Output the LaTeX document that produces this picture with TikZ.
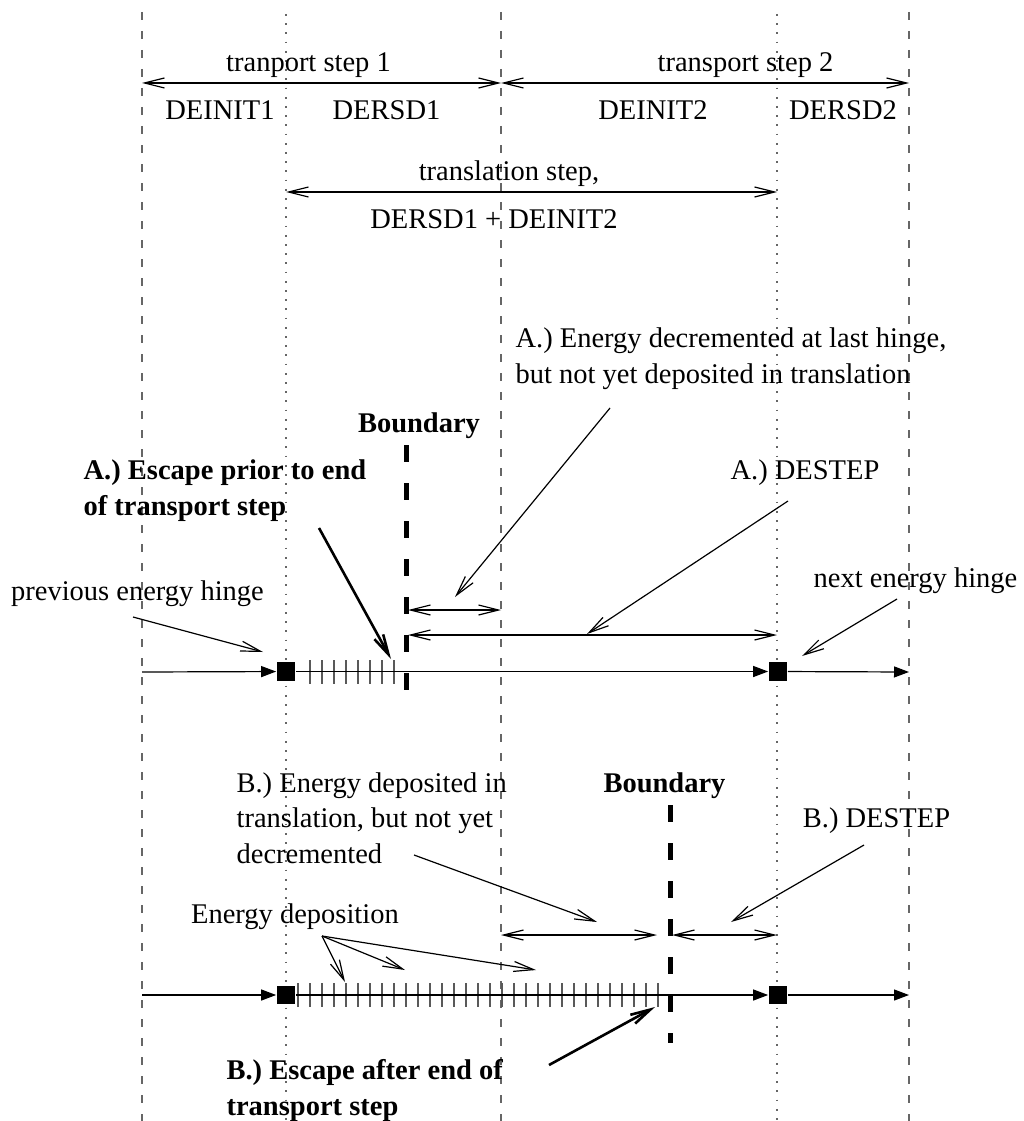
\documentclass[tikz,border=0pt]{standalone}
\usepackage{fontspec}
\setmainfont{Liberation Serif}
\usetikzlibrary{arrows.meta}

\begin{document}
\begin{tikzpicture}[x=1pt, y=-1pt, line width=1.2pt,
  every node/.style={inner sep=0pt, font=\fontsize{28.5}{35.5}\selectfont},
  heavy/.style={font=\fontsize{28.5}{35.5}\selectfont\bfseries},
  lbl/.style={anchor=base},
  txt/.style={anchor=base west, align=left},
  stepline/.style={black!60, line width=1.3pt, dash pattern=on 8pt off 11pt},
  halfline/.style={black!60, line width=1.8pt, dash pattern=on 1.8pt off 7.4pt},
  measure/.style={{Straight Barb[length=20pt,width=10pt]}-{Straight Barb[length=20pt,width=10pt]}},
  pointer/.style={-{Straight Barb[length=20pt,width=10pt]}},
  thickpointer/.style={pointer, line width=2.6pt},
  flowline/.style={-{Triangle[length=15pt,width=11pt]}},
  hingebox/.style={fill=black, minimum size=18.5pt},
  wall/.style={line width=5pt, dash pattern=on 17pt off 21pt},
  tickmark/.style={black!65, line width=1.6pt}]
\useasboundingbox (0,0) rectangle (1023,1121);

\foreach \x in {142,501,909} \draw[stepline] (\x,12) -- (\x,1121);
\foreach \x in {286,777} \draw[halfline] (\x,14) -- (\x,1121);

\node[lbl] (step1) at (308.5,72) {tranport step 1};
\node[lbl] (step2) at (745.5,72) {transport step 2};
\node[lbl] (deinit1) at (220,120) {DEINIT1};
\node[lbl] (dersd1) at (386.5,120) {DERSD1};
\node[lbl] (deinit2) at (653,120) {DEINIT2};
\node[lbl] (dersd2) at (843,120) {DERSD2};
\node[lbl] (trans) at (509,180) {translation step,};
\node[lbl] (transsum) at (494,228) {DERSD1 + DEINIT2};

\coordinate (t0) at (142,83);
\coordinate (t1) at (501,83);
\coordinate (t2) at (909,83);
\coordinate (r1) at (286,192);
\coordinate (r2) at (777,192);
\draw[measure] (t0) -- (t1);
\draw[measure] (t1) -- (t2);
\draw[measure] (r1) -- (r2);

\node[lbl, heavy] (bndA) at (419,432) {Boundary};
\node[txt, heavy] (escA) at (83,515) {A.) Escape prior to end\\of transport step};
\node[lbl] (prevh) at (137.5,600) {previous energy hinge};
\node[txt] (decA) at (515,383) {A.) Energy decremented at last hinge,\\but not yet deposited in translation};
\node[lbl] (destepA) at (805,479) {A.) DESTEP};
\node[lbl] (nexth) at (915.5,587) {next energy hinge};

\draw[wall] (406,445) -- (406,693);
\foreach \x in {310,322,...,394} \draw[tickmark] (\x,660) -- (\x,684);
\coordinate (a0) at (142,672);
\node[hingebox] (hA1) at (286,671.5) {};
\node[hingebox] (hA2) at (778,671.5) {};
\coordinate (a3) at (909,672);
\draw[flowline] (a0) -- (hA1);
\draw[flowline] (hA1) -- (hA2);
\draw[flowline] (hA2) -- (a3);

\coordinate (mA0) at (408,610);
\coordinate (mA1) at (501,610);
\coordinate (mA2) at (408,635);
\coordinate (mA3) at (777,635);
\draw[measure] (mA0) -- (mA1);
\draw[measure] (mA2) -- (mA3);

\coordinate (pA1) at (133,617); \coordinate (pA2) at (263,652);
\coordinate (eA1) at (319,528); \coordinate (eA2) at (391,659);
\coordinate (dA1) at (610,408); \coordinate (dA2) at (455,597);
\coordinate (sA1) at (788,501); \coordinate (sA2) at (587,634);
\coordinate (nA1) at (897,599); \coordinate (nA2) at (802,656);
\draw[pointer] (pA1) -- (pA2);
\draw[thickpointer] (eA1) -- (eA2);
\draw[pointer] (dA1) -- (dA2);
\draw[pointer] (sA1) -- (sA2);
\draw[pointer] (nA1) -- (nA2);

\node[txt] (depB) at (236,863) {B.) Energy deposited in\\translation, but not yet\\decremented};
\node[lbl, heavy] (bndB) at (664.5,792) {Boundary};
\node[lbl] (destepB) at (876.5,827) {B.) DESTEP};
\node[lbl] (edep) at (295,923) {Energy deposition};
\node[txt, heavy] (escB) at (226,1115) {B.) Escape after end of\\transport step};

\draw[wall] (670,805) -- (670,1043);
\foreach \x in {298,310,...,658} \draw[tickmark] (\x,983) -- (\x,1007);
\coordinate (b0) at (142,995);
\node[hingebox] (hB1) at (286,995) {};
\node[hingebox] (hB2) at (778,995) {};
\coordinate (b3) at (909,995);
\draw[flowline] (b0) -- (hB1);
\draw[flowline] (hB1) -- (hB2);
\draw[flowline] (hB2) -- (b3);

\coordinate (mB0) at (501,935);
\coordinate (mB1) at (657,935);
\coordinate (mB2) at (672,935);
\coordinate (mB3) at (777,935);
\draw[measure] (mB0) -- (mB1);
\draw[measure] (mB2) -- (mB3);

\coordinate (dB1) at (414,855); \coordinate (dB2) at (597,922);
\coordinate (sB1) at (864,845); \coordinate (sB2) at (731,922);
\coordinate (gB) at (322,936);
\coordinate (gB1) at (345,982); \coordinate (gB2) at (405,970); \coordinate (gB3) at (536,970);
\coordinate (eB1) at (549,1065); \coordinate (eB2) at (655,1007);
\draw[pointer] (dB1) -- (dB2);
\draw[pointer] (sB1) -- (sB2);
\draw[pointer] (gB) -- (gB1);
\draw[pointer] (gB) -- (gB2);
\draw[pointer] (gB) -- (gB3);
\draw[thickpointer] (eB1) -- (eB2);
\end{tikzpicture}
\end{document}
